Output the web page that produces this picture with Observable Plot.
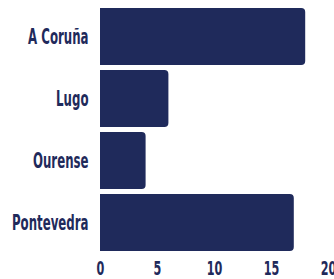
<!DOCTYPE html>
<html>
<head>
<meta charset="utf-8">
<script src="https://cdn.jsdelivr.net/npm/d3@7"></script>
<script src="https://cdn.jsdelivr.net/npm/@observablehq/plot@0.6"></script>
<style>
html,body{margin:0;padding:0;background:#fff;}
</style>
</head>
<body>
<div id="chart"></div>
<script>
const provinces = ["A Coruña", "Lugo", "Ourense", "Pontevedra"];
const counts = [18, 6, 4, 17];
const xTicks = [0, 5, 10, 15, 20];

const data = provinces.map((p, i) => ({province: p, count: counts[i]}));
const navy = "#1f2a5b";
const font = "'DejaVu Sans',sans-serif";

const chart = Plot.plot({
  width: 334,
  height: 279,
  marginLeft: 100,
  marginRight: 6,
  marginTop: 2,
  marginBottom: 22,
  style: {fontFamily: font, fontSize: "21px", fontWeight: "bold", color: navy, overflow: "visible"},
  x: {domain: [0, 20], ticks: xTicks, label: null},
  y: {domain: provinces, label: null, padding: 0.08},
  marks: [
    Plot.gridX(xTicks, {stroke: "#c9cbdc", strokeOpacity: 1, y1: 0, y2: 257}),
    Plot.barX(data, {x: "count", y: "province", fill: navy, rx2: 4}),
    Plot.axisY({tickSize: 0, tickPadding: 12, fill: navy, stroke: navy, strokeWidth: 0.5, fontSize: 21, fontWeight: "bold"}),
    Plot.axisX({ticks: xTicks, tickSize: 0, tickPadding: 3, fill: navy, stroke: navy, strokeWidth: 0.5, fontSize: 20, fontWeight: "bold", label: null})
  ]
});
document.getElementById("chart").appendChild(chart);
// condense the tick label glyphs horizontally (narrow display face)
chart.querySelectorAll("g[aria-label$='tick label'] text").forEach(t => {
  const w = t.getComputedTextLength();
  t.setAttribute("textLength", (w * 0.56).toFixed(1));
  t.setAttribute("lengthAdjust", "spacingAndGlyphs");
});
</script>
</body>
</html>
